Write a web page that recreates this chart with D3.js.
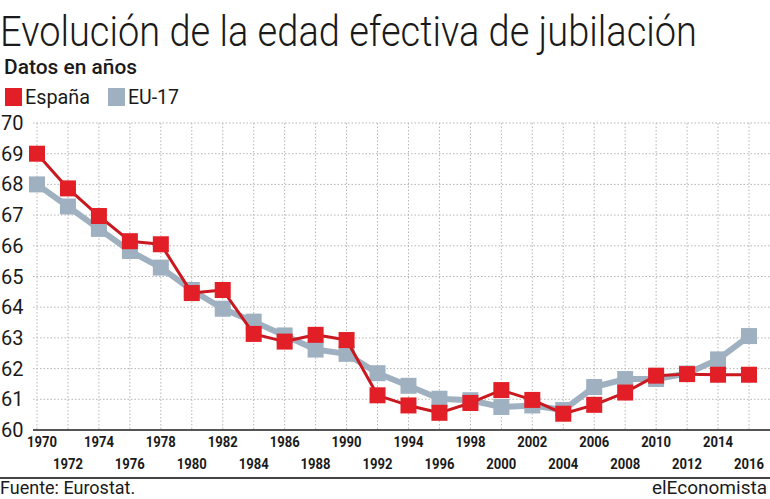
<!DOCTYPE html>
<html>
<head>
<meta charset="utf-8">
<script src="https://cdn.jsdelivr.net/npm/d3@7"></script>
<style>
  html, body { margin: 0; padding: 0; background: #fff; }
  svg { display: block; }
  text { font-family: Roboto, "Liberation Sans", sans-serif; }
</style>
</head>
<body>
<svg id="chart" width="770" height="499"></svg>
<script>
const years = [1970,1972,1974,1976,1978,1980,1982,1984,1986,1988,1990,1992,1994,1996,1998,2000,2002,2004,2006,2008,2010,2012,2014,2016];
const espana = [69.0,67.87,66.97,66.15,66.05,64.46,64.56,63.13,62.88,63.1,62.93,61.13,60.8,60.56,60.88,61.3,60.98,60.53,60.82,61.22,61.77,61.82,61.8,61.8];
const eu17 = [68.0,67.28,66.55,65.83,65.29,64.56,63.95,63.53,63.08,62.62,62.48,61.85,61.44,61.02,60.97,60.75,60.8,60.65,61.4,61.66,61.66,61.84,62.3,63.06];
const yTicks = [60,61,62,63,64,65,66,67,68,69,70];
const seriesNames = ["España", "EU-17"];
const colors = {"España": "#e21f26", "EU-17": "#9fb1c0"};
const lineColors = {"España": "#c9181f", "EU-17": "#9fb1c0"};

const svg = d3.select("#chart");
const x = d3.scaleLinear().domain([1970, 2016]).range([37, 749]);
const y = d3.scaleLinear().domain([60, 70]).range([430, 123]);

// Title
svg.append("text").attr("x", 0).attr("y", 46)
  .attr("font-size", 42).attr("font-weight", 300).attr("fill", "#1a1a1a")
  .attr("textLength", 697).attr("lengthAdjust", "spacingAndGlyphs")
  .text("Evolución de la edad efectiva de jubilación");
svg.append("text").attr("x", 4).attr("y", 74)
  .attr("font-size", 20).attr("font-weight", 500).attr("fill", "#1a1a1a")
  .attr("textLength", 133).attr("lengthAdjust", "spacingAndGlyphs")
  .text("Datos en años");

// Legend
const legX = [5, 108];
const legW = [65, 51];
seriesNames.forEach((n, i) => {
  svg.append("rect").attr("x", legX[i]).attr("y", 88).attr("width", 17).attr("height", 18)
    .attr("fill", colors[n]);
  svg.append("text").attr("x", legX[i] + 20).attr("y", 104)
    .attr("font-size", 20).attr("fill", "#1a1a1a")
    .attr("textLength", legW[i]).attr("lengthAdjust", "spacingAndGlyphs")
    .text(n);
});

// Grid
const grid = svg.append("g");
grid.selectAll("line.h").data(yTicks.filter(d => d > 60)).enter().append("line")
  .attr("x1", 33).attr("x2", 770).attr("y1", d => y(d)).attr("y2", d => y(d))
  .attr("stroke", "#b5b5b5").attr("stroke-width", 1).attr("stroke-dasharray", "1.5,2");
grid.selectAll("line.v").data(years).enter().append("line")
  .attr("x1", d => x(d)).attr("x2", d => x(d)).attr("y1", y(70)).attr("y2", y(60))
  .attr("stroke", "#b5b5b5").attr("stroke-width", 1).attr("stroke-dasharray", "1.5,2");

// Y labels
svg.selectAll("text.yl").data(yTicks).enter().append("text")
  .attr("x", 1).attr("y", d => y(d) + 7)
  .attr("font-size", 20).attr("fill", "#1a1a1a")
  .text(d => d);

// X axis line
svg.append("line").attr("x1", 33).attr("x2", 770).attr("y1", y(60)).attr("y2", y(60))
  .attr("stroke", "#555").attr("stroke-width", 2);

// X labels
svg.selectAll("text.xl").data(years).enter().append("text")
  .attr("x", (d, i) => x(d) + (i === 0 ? 5 : 0))
  .attr("y", (d, i) => i % 2 === 0 ? 447 : 469)
  .attr("text-anchor", "middle")
  .attr("font-size", 15).attr("font-weight", 700).attr("fill", "#1a1a1a")
  .attr("textLength", 30).attr("lengthAdjust", "spacingAndGlyphs")
  .text(d => d);

// Series
const data = {"España": espana, "EU-17": eu17};
const line = d3.line().x((d, i) => x(years[i])).y(d => y(d));
["EU-17", "España"].forEach(n => {
  const g = svg.append("g");
  g.append("path").datum(data[n]).attr("d", line)
    .attr("fill", "none").attr("stroke", lineColors[n])
    .attr("stroke-width", n === "EU-17" ? 6 : 3).attr("stroke-linejoin", "round");
  g.selectAll("rect").data(data[n]).enter().append("rect")
    .attr("x", (d, i) => x(years[i]) - 8).attr("y", d => y(d) - 8)
    .attr("width", 16).attr("height", 16)
    .attr("fill", colors[n]);
});

// Footer
svg.append("line").attr("x1", 0).attr("x2", 770).attr("y1", 478).attr("y2", 478)
  .attr("stroke", "#444").attr("stroke-width", 2);
svg.append("text").attr("x", 0).attr("y", 494)
  .attr("font-size", 18).attr("fill", "#1a1a1a")
  .text("Fuente: Eurostat.");
svg.append("text").attr("x", 767).attr("y", 494).attr("text-anchor", "end")
  .attr("font-size", 19).attr("fill", "#1a1a1a")
  .text("elEconomista");
</script>
</body>
</html>
